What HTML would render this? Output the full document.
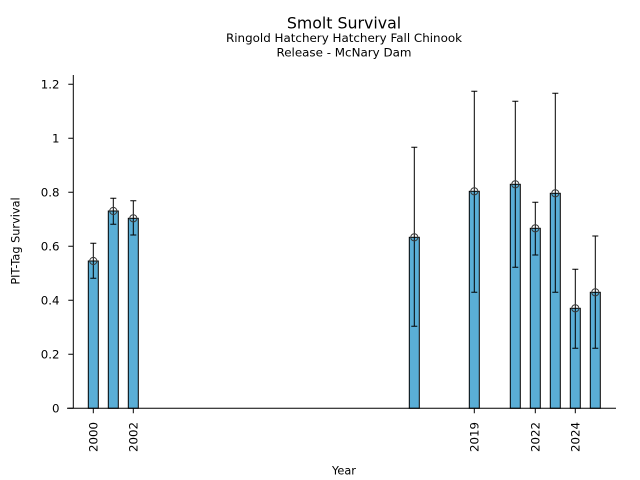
<!DOCTYPE html>
<html><head><meta charset="utf-8"><style>
html,body{margin:0;padding:0;background:#fff;}
svg{display:block;}
text{font-family:"DejaVu Sans","Liberation Sans",sans-serif;fill:#000;}
</style></head><body>
<svg width="640" height="480" viewBox="0 0 640 480" xmlns="http://www.w3.org/2000/svg">
<rect width="640" height="480" fill="#fff"/>
<!-- titles -->
<text x="344" y="28.3" font-size="15.8" text-anchor="middle">Smolt Survival</text>
<text x="344" y="42" font-size="11.9" text-anchor="middle">Ringold Hatchery Hatchery Fall Chinook</text>
<text x="344" y="56.3" font-size="11.9" text-anchor="middle">Release - McNary Dam</text>

<!-- bars -->
<g fill="#5aaed6" stroke="#000" stroke-width="1">
<rect x="88.3" y="261.0" width="10" height="147.3"/>
<rect x="108.3" y="211.0" width="10" height="197.3"/>
<rect x="128.3" y="218.3" width="10" height="190.0"/>
<rect x="409.3" y="237.3" width="10" height="171.0"/>
<rect x="469.3" y="191.3" width="10" height="217.0"/>
<rect x="510.3" y="184.3" width="10" height="224.0"/>
<rect x="530.3" y="228.3" width="10" height="180.0"/>
<rect x="550.3" y="193.3" width="10" height="215.0"/>
<rect x="570.3" y="308.3" width="10" height="100.0"/>
<rect x="590.3" y="292.3" width="10" height="116.0"/>
</g>

<!-- error bars -->
<g stroke="#000" stroke-width="1" fill="none">
<path d="M93.3 243.3V278.3M90.3 243.3H96.3M90.3 278.3H96.3"/>
<path d="M113.3 198.3V224.3M110.3 198.3H116.3M110.3 224.3H116.3"/>
<path d="M133.3 200.7V235M130.3 200.7H136.3M130.3 235H136.3"/>
<path d="M414.3 147.3V326.3M411.3 147.3H417.3M411.3 326.3H417.3"/>
<path d="M474.3 91.3V292.3M471.3 91.3H477.3M471.3 292.3H477.3"/>
<path d="M515.3 101.3V267.3M512.3 101.3H518.3M512.3 267.3H518.3"/>
<path d="M535.3 202.3V255M532.3 202.3H538.3M532.3 255H538.3"/>
<path d="M555.3 93.3V292.3M552.3 93.3H558.3M552.3 292.3H558.3"/>
<path d="M575.3 269.3V348.3M572.3 269.3H578.3M572.3 348.3H578.3"/>
<path d="M595.3 236V348.3M592.3 236H598.3M592.3 348.3H598.3"/>
</g>

<!-- markers -->
<g stroke="#3a3a3a" stroke-width="1" fill="none">
<circle cx="93.3" cy="261.0" r="3.6"/>
<circle cx="113.3" cy="211.0" r="3.6"/>
<circle cx="133.3" cy="218.3" r="3.6"/>
<circle cx="414.3" cy="237.3" r="3.6"/>
<circle cx="474.3" cy="191.3" r="3.6"/>
<circle cx="515.3" cy="184.3" r="3.6"/>
<circle cx="535.3" cy="228.3" r="3.6"/>
<circle cx="555.3" cy="193.3" r="3.6"/>
<circle cx="575.3" cy="308.3" r="3.6"/>
<circle cx="595.3" cy="292.3" r="3.6"/>
</g>

<!-- axes spines -->
<g stroke="#000" stroke-width="1" fill="none">
<line x1="73.3" y1="75" x2="73.3" y2="408.3"/>
<line x1="67" y1="408.3" x2="616" y2="408.3"/>
<path d="M68.3 84.3H73.3M68.3 138.3H73.3M68.3 192.3H73.3M68.3 246.3H73.3M68.3 300.3H73.3M68.3 354.3H73.3M68.3 408.3H73.3"/>
<path d="M93.3 408.3V413.3M133.3 408.3V413.3M474.3 408.3V413.3M535.3 408.3V413.3M575.3 408.3V413.3"/>
</g>

<!-- y tick labels -->
<g font-size="11.8" text-anchor="end">
<text x="59.5" y="88.6">1.2</text>
<text x="59.5" y="142.6">1</text>
<text x="59.5" y="196.6">0.8</text>
<text x="59.5" y="250.6">0.6</text>
<text x="59.5" y="304.6">0.4</text>
<text x="59.5" y="358.6">0.2</text>
<text x="59.5" y="412.6">0</text>
</g>

<!-- x tick labels -->
<g font-size="11.8" text-anchor="end">
<text transform="translate(97.5,422) rotate(-90)">2000</text>
<text transform="translate(137.5,422) rotate(-90)">2002</text>
<text transform="translate(478.5,422) rotate(-90)">2019</text>
<text transform="translate(539.5,422) rotate(-90)">2022</text>
<text transform="translate(579.5,422) rotate(-90)">2024</text>
</g>

<!-- axis labels -->
<text x="344" y="474.3" font-size="11.3" text-anchor="middle">Year</text>
<text transform="translate(19.3,241) rotate(-90)" font-size="11.3" text-anchor="middle">PIT-Tag Survival</text>
</svg>
</body></html>
